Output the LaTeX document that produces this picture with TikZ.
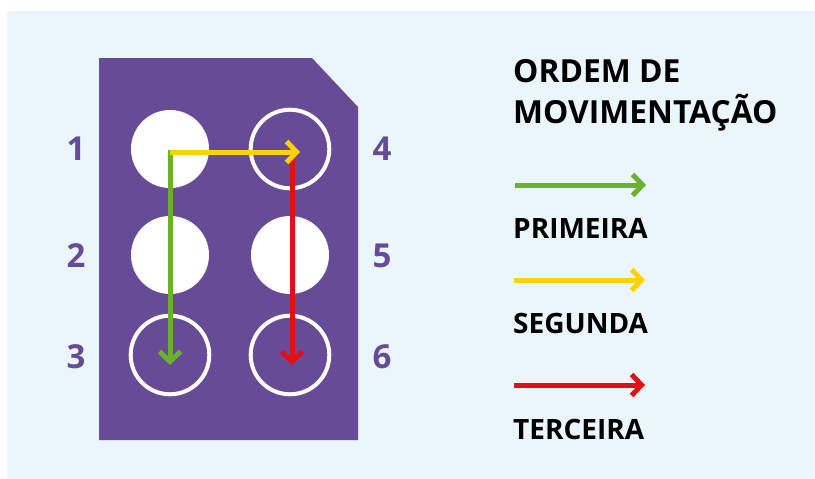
\documentclass[tikz,border=0pt]{standalone}
\usepackage{fontspec}
\setsansfont{Open Sans}
\usetikzlibrary{arrows.meta}
\definecolor{cardpurple}{HTML}{674B97}
\definecolor{bgblue}{HTML}{EBF6FC}
\definecolor{firstgreen}{HTML}{6AB22E}
\definecolor{secondyellow}{HTML}{FFD200}
\definecolor{thirdred}{HTML}{E30F17}
\tikzset{
  filledcell/.style={circle, fill=white, minimum size=78pt, inner sep=0pt},
  ringcell/.style={circle, minimum size=78pt, inner sep=0pt},
  ring/.style={draw=white, line width=4pt},
  cellnum/.style={text=cardpurple, inner sep=0pt, font=\sffamily\bfseries\fontsize{33}{33}\selectfont},
  legendtext/.style={anchor=base west, inner sep=0pt, font=\sffamily\bfseries\fontsize{28}{28}\selectfont},
  move/.style={line width=5pt, -{Straight Barb[length=10pt,width=21pt]}}
}
\begin{document}
\begin{tikzpicture}[x=1pt,y=-1pt]
  \useasboundingbox (0,0) rectangle (815,479);
  \fill[bgblue] (7,11) rectangle (815,479);
  % cell
  \fill[cardpurple] (99,58) -- (312,58) -- (358,107) -- (358,440) -- (99,440) -- cycle;
  \node[filledcell] (c1) at (170,149) {};
  \node[filledcell] (c2) at (170,255) {};
  \node[ringcell]   (c3) at (170,355) {};
  \node[ringcell]   (c4) at (290,149) {};
  \node[filledcell] (c5) at (290,255) {};
  \node[ringcell]   (c6) at (290,355) {};
  \foreach \c in {c3,c4,c6}
    \draw[ring] (\c.center) circle[radius=39.3pt];
  \node[cellnum] (n1) at (76,149) {1};
  \node[cellnum] (n2) at (76,256) {2};
  \node[cellnum] (n3) at (76,357) {3};
  \node[cellnum] (n4) at (382,149) {4};
  \node[cellnum] (n5) at (382,256) {5};
  \node[cellnum] (n6) at (382,357) {6};
  % moves
  \draw[move, firstgreen] ([yshift=-1pt]c1.center) -- ([yshift=-10pt]c3.center);
  \draw[move, thirdred] ([xshift=2pt,yshift=-9pt]c4.center) -- ([xshift=2pt,yshift=-10pt]c6.center);
  \draw[move, secondyellow] ([xshift=-0.5pt,yshift=-3pt]c1.center) -- ([xshift=10pt,yshift=-3pt]c4.center);
  % legend
  \node[anchor=north west, inner sep=0pt, align=left,
        font=\sffamily\bfseries\fontsize{31.8}{41}\selectfont] (title) at (513,59) {ORDEM DE\\MOVIMENTAÇÃO};
  \coordinate (g1) at (515,185);
  \coordinate (g2) at (646,185);
  \coordinate (y1) at (514,280);
  \coordinate (y2) at (645,280);
  \coordinate (r1) at (514,385);
  \coordinate (r2) at (645,385);
  \draw[move, firstgreen] (g1) -- (g2);
  \draw[move, secondyellow] (y1) -- (y2);
  \draw[move, thirdred] (r1) -- (r2);
  \node[legendtext] (lprim) at (513,238) {PRIMEIRA};
  \node[legendtext] (lseg) at (513,333) {SEGUNDA};
  \node[legendtext] (lter) at (513,439) {TERCEIRA};
\end{tikzpicture}
\end{document}
